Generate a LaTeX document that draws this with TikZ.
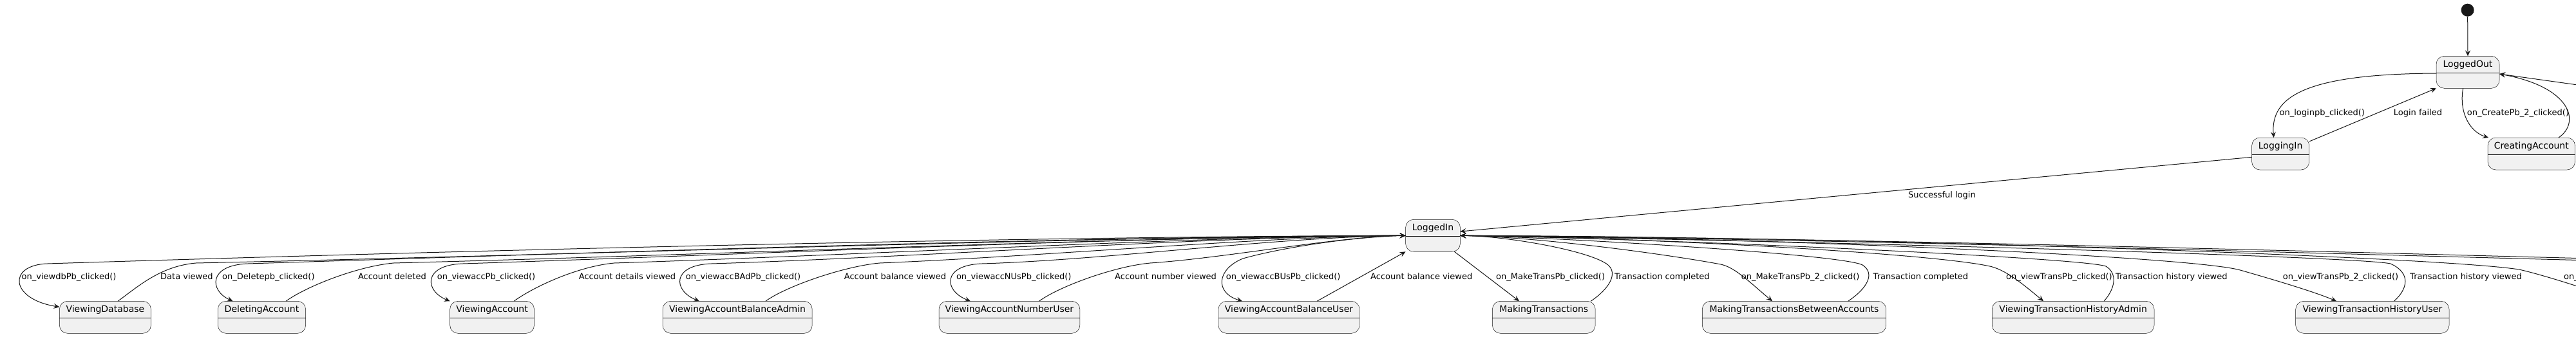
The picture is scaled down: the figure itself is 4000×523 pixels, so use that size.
\documentclass[tikz,border=0pt]{standalone}
\usepackage{fontspec}
\setmainfont{DejaVu Sans}
\usetikzlibrary{arrows.meta}
\definecolor{c18}{HTML}{181818}
\definecolor{stfill}{HTML}{F1F1F1}
\tikzset{
 stbox/.style={draw=c18, line width=0.5pt, fill=stfill, rounded corners=12.5pt, minimum height=50pt, inner sep=0pt, outer sep=0pt},
 stname/.style={anchor=base, inner sep=0pt, font=\fontsize{14}{16}\selectfont, text=black},
 stdiv/.style={draw=c18, line width=0.5pt},
 elabel/.style={anchor=base west, inner sep=0pt, font=\fontsize{13}{15}\selectfont, text=black},
 trans/.style={draw=c18, line width=1pt, -{Stealth[length=9pt,width=8pt,inset=3.5pt]}},
 initdot/.style={circle, fill=c18, minimum size=20pt, inner sep=0pt},
}
\newcommand\umlstate[5]{%
  \node[stbox, minimum width={(#3)-(#2)}] (#1) at ({((#2)+(#3))/2},{(#4)+25}) {};
  \node[stname] (#1-name) at ([yshift=-17.5pt]#1.north) {#5};
  \draw[stdiv] ([yshift=-26pt]#1.north west) -- ([yshift=-26pt]#1.north east);
}
\begin{document}
\begin{tikzpicture}[x=1pt,y=-1pt]
\useasboundingbox (0,0) rectangle (4000,523);
\fill[white] (0,0) rectangle (4000,523);
\clip (0,0) rectangle (4000,523);

% states
\node[initdot] (init) at (3831.6,15.7) {};
\umlstate{LO}{3783}{3881}{87.3}{LoggedOut}
\umlstate{LGI}{3496.6}{3585.7}{214}{LoggingIn}
\umlstate{CA}{3863}{3998.5}{214}{CreatingAccount}
\umlstate{LI}{2182.6}{2267.4}{341.3}{LoggedIn}
\umlstate{VD}{92.4}{234.4}{468.3}{ViewingDatabase}
\umlstate{DA}{338.4}{474.6}{468.3}{DeletingAccount}
\umlstate{VA}{698.7}{829.5}{468.3}{ViewingAccount}
\umlstate{VABA}{1029}{1261.2}{468.3}{ViewingAccountBalanceAdmin}
\umlstate{VANU}{1458}{1676.8}{468.3}{ViewingAccountNumberUser}
\umlstate{VABU}{1892}{2111}{468.3}{ViewingAccountBalanceUser}
\umlstate{MT}{2317.4}{2477.2}{468.3}{MakingTransactions}
\umlstate{MTBA}{2643.3}{2928.6}{468.3}{MakingTransactionsBetweenAccounts}
\umlstate{VTHA}{3093.3}{3345}{468.3}{ViewingTransactionHistoryAdmin}
\umlstate{VTHU}{3564.7}{3803}{468.3}{ViewingTransactionHistoryUser}

% off-picture ends
\coordinate (offA) at (4060,465);
\coordinate (offB) at (4100,404);
\coordinate (offC) at (4100,407);
\coordinate (offD) at (4100,145.7);

% top part
\draw[trans] (init) -- (LO.north);
\draw[trans] ([yshift=-1.7pt]LO.west) .. controls (3580,115) and (3525,150) .. ([xshift=34pt]LGI.north west);
\draw[trans] ([yshift=-6pt]LGI.north east) -- (LO.south west);
\draw[trans] ([xshift=-7.4pt]LO.south) .. controls (3818,175) and (3835,205) .. ([xshift=1pt]CA.north west);
\draw[trans] ([xshift=-25.5pt]CA.north east) .. controls (4008,190) and (3992,135) .. ([yshift=-2.7pt]LO.east);
\draw[trans] (offD) -- ([yshift=-2.7pt]LO.east);
\draw[trans] ([yshift=-5.3pt]LGI.west) -- ([yshift=6.3pt]LI.east);

% left forward
\draw[trans] (LI.west) .. controls (1550,368) and (706,390) .. (73.5,410) .. controls (11.5,412) and (15,465) .. ([yshift=-9pt]VD.north west);
\draw[trans] (LI.west) .. controls (1643,368) and (924,393) .. (385,410) .. controls (323,412) and (325,452) .. ([xshift=23.2pt]DA.north west);
\draw[trans] (LI.west) .. controls (1743,368) and (1158,396) .. (718.6,410) .. controls (656.6,412) and (658.6,452) .. (VA.north west);
\draw[trans] (LI.west) .. controls (1859,368) and (1428,400) .. (1104.7,410) .. controls (1042.7,412) and (1044.7,452) .. ([xshift=57pt]VABA.north west);
\draw[trans] (LI.west) .. controls (1985,368) and (1722,404) .. (1524.8,410) .. controls (1462.8,412) and (1464.8,452) .. ([xshift=49pt]VANU.north west);
\draw[trans] (LI.west) .. controls (2100,368) and (1990,385) .. (1930,402) .. controls (1890,418) and (1885,455) .. ([xshift=37pt]VABU.north west);

% left return
\draw[trans] ([xshift=90.6pt]VD.north west) .. controls (215,445) and (249,414) .. (304,409) .. controls (867.6,397) and (1713,367) .. (LI.west);
\draw[trans] ([xshift=105.6pt]DA.north west) .. controls (476,445) and (555.8,414) .. (610.8,409) .. controls (1082.3,397) and (1789.6,367) .. (LI.west);
\draw[trans] ([xshift=99.3pt]VA.north west) .. controls (830,445) and (898.7,414) .. (953.7,409) .. controls (1322.4,397) and (1875.4,367) .. (LI.west);
\draw[trans] ([xshift=159.8pt]VABA.north west) .. controls (1220.8,445) and (1310.7,414) .. (1365.7,409) .. controls (1610.8,399) and (1978.4,367) .. (LI.west);
\draw[trans] ([xshift=155.4pt]VANU.north west) .. controls (1645.4,445) and (1731,414) .. (1786,409) .. controls (1905,401) and (2083.4,367) .. (LI.west);
\draw[trans] ([xshift=153pt]VABU.north west) -- (LI.south west);

% right side
\draw[trans] ([xshift=-9pt]LI.south east) -- ([xshift=41.6pt]MT.north west);
\draw[trans] ([xshift=-7pt]MT.north east) .. controls (2500,448) and (2512,425) .. (2497,412) .. controls (2470,390) and (2340,367) .. (LI.east);
\draw[trans] (LI.east) .. controls (2390,368) and (2592,396) .. (2672,411) .. controls (2695,416) and (2718,440) .. ([xshift=108.7pt]MTBA.north west);
\draw[trans] ([xshift=-59pt]MTBA.north east) .. controls (2900,448) and (2912,425) .. (2892,412) .. controls (2860,395) and (2400,368) .. (LI.east);
\draw[trans] (LI.east) .. controls (2520,368) and (3000,393) .. (3092,414.5) .. controls (3117,421) and (3145,445) .. ([xshift=79.7pt]VTHA.north west);
\draw[trans] ([xshift=-78pt]VTHA.north east) .. controls (3285,448) and (3288,425) .. (3270,414) .. controls (3230,400) and (2550,370) .. (LI.east);
\draw[trans] (LI.east) .. controls (2700,368) and (3400,398) .. (3478.6,420) .. controls (3510,429) and (3590,452) .. ([xshift=63.3pt]VTHU.north west);
\draw[trans] ([xshift=-85.6pt]VTHU.north east) .. controls (3738,450) and (3745,425) .. (3712,410) .. controls (3660,398) and (2700,372) .. (LI.east);
\draw[trans] (LI.east) .. controls (2900,368) and (3800,400) .. (3913,419.3) .. controls (3950,428) and (4010,447) .. (offA);
\draw[trans] (offB) .. controls (3700,394) and (2900,370) .. (LI.east);
\draw[trans] (LI.east) .. controls (2900,372) and (3700,397) .. (offC);

% labels
\node[elabel] (t1) at (3539.4,179.5) {on\_loginpb\_clicked()};
\node[elabel] (t2) at (3716.6,179.5) {Login failed};
\node[elabel] (t3) at (3830.6,179.5) {on\_CreatePb\_2\_clicked()};
\node[elabel] (t4) at (2963,307.3) {Successful login};

\node[elabel] (b1) at (33.5,434) {on\_viewdbPb\_clicked()};
\node[elabel] (b2) at (249,434) {Data viewed};
\node[elabel] (b3) at (345,434) {on\_Deletepb\_clicked()};
\node[elabel] (b4) at (555.8,434) {Account deleted};
\node[elabel] (b5) at (678.6,434) {on\_viewaccPb\_clicked()};
\node[elabel] (b6) at (898.7,434) {Account details viewed};
\node[elabel] (b7) at (1064.7,434) {on\_viewaccBAdPb\_clicked()};
\node[elabel] (b8) at (1310.7,434) {Account balance viewed};
\node[elabel] (b9) at (1484.8,434) {on\_viewaccNUsPb\_clicked()};
\node[elabel] (b10) at (1731,434) {Account number viewed};
\node[elabel] (b11) at (1903.6,434) {on\_viewaccBUsPb\_clicked()};
\node[elabel] (b12) at (2128,434) {Account balance viewed};
\node[elabel] (b13) at (2323,434) {on\_MakeTransPb\_clicked()};
\node[elabel] (b14) at (2507,434) {Transaction completed};
\node[elabel] (b15) at (2703.6,434) {on\_MakeTransPb\_2\_clicked()};
\node[elabel] (b16) at (2908.5,434) {Transaction completed};
\node[elabel] (b17) at (3115,434) {on\_viewTransPb\_clicked()};
\node[elabel] (b18) at (3284.8,434) {Transaction history viewed};
\node[elabel] (b19) at (3544.6,434) {on\_viewTransPb\_2\_clicked()};
\node[elabel] (b20) at (3742,434) {Transaction history viewed};
\node[elabel] (b21) at (3980.8,434) {on\_};
\end{tikzpicture}
\end{document}
